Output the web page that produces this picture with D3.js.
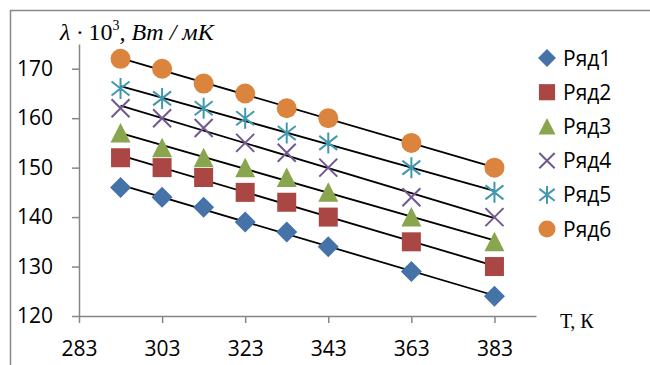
<!DOCTYPE html>
<html>
<head>
<meta charset="utf-8">
<script src="https://cdn.jsdelivr.net/npm/d3@7"></script>
<style>
body { margin:0; background:#fff; }
svg { font-family: "Open Sans", sans-serif; }
</style>
</head>
<body>
<div id="chart"></div>
<script>
// data
var temps = [293, 303, 313, 323, 333, 343, 363, 383];
var xTicks = [283, 303, 323, 343, 363, 383];
var yTicks = [120, 130, 140, 150, 160, 170];
var seriesNames = ["Ряд1", "Ряд2", "Ряд3", "Ряд4", "Ряд5", "Ряд6"];
var row1 = [146, 144, 142, 139, 137, 134, 129, 124];
var row2 = [152, 150, 148, 145, 143, 140, 135, 130];
var row3 = [157, 154, 152, 150, 148, 145, 140, 135];
var row4 = [162, 160, 158, 155, 153, 150, 144, 140];
var row5 = [166, 164, 162, 160, 157, 155, 150, 145];
var row6 = [172, 170, 167, 165, 162, 160, 155, 150];
var colors = ["#4572A7", "#AA4643", "#89A54E", "#71588F", "#4198AF", "#DB843D"];

var rows = [row1, row2, row3, row4, row5, row6];

var width = 650, height = 365;
var svg = d3.select("#chart").append("svg")
  .attr("width", width)
  .attr("height", height);

// outer frame
svg.append("rect")
  .attr("x", 10.5).attr("y", 10.5)
  .attr("width", width).attr("height", height)
  .attr("fill", "none").attr("stroke", "#888").attr("stroke-width", 1.5);

var x = d3.scaleLinear().domain([283, 393]).range([79, 536]);
var y = d3.scaleLinear().domain([120, 175]).range([316, 44]);

var axisColor = "#868686";

var gx = svg.append("g").attr("transform", "translate(0,316)")
  .call(d3.axisBottom(x).tickValues(xTicks).tickSize(7).tickSizeOuter(0).tickPadding(18));
var gy = svg.append("g").attr("transform", "translate(79,0)")
  .call(d3.axisLeft(y).tickValues(yTicks).tickSize(7).tickSizeOuter(0).tickPadding(8));

[gx, gy].forEach(function(g){
  g.select(".domain").attr("stroke", axisColor).attr("stroke-width", 1.5);
  g.selectAll(".tick line").attr("stroke", axisColor).attr("stroke-width", 1.5);
  g.selectAll(".tick text").attr("fill", "#000").style("font-size", "21px")
    .style("font-family", "'Open Sans', sans-serif");
});
gy.selectAll(".tick text").attr("x", -26);

// axis titles
svg.append("text")
  .attr("x", 60).attr("y", 40)
  .style("font-family", "'Liberation Serif', serif")
  .style("font-style", "italic")
  .style("font-size", "24px")
  .html("λ · <tspan font-style='normal'>10</tspan><tspan dy='-10' font-size='14' font-style='normal'>3</tspan><tspan dy='10'>, Вт / мК</tspan>");

svg.append("text")
  .attr("x", 560).attr("y", 328)
  .style("font-family", "'Liberation Serif', serif")
  .style("font-size", "20px")
  .text("Т, К");

// linear trend lines (least squares for each row)
function fit(vals) {
  var mx = d3.mean(temps), my = d3.mean(vals);
  var num = d3.sum(temps, function(t, i){ return (t - mx) * (vals[i] - my); });
  var den = d3.sum(temps, function(t){ return (t - mx) * (t - mx); });
  var b = num / den;
  return function(t){ return my + b * (t - mx); };
}

var line = d3.line().x(function(d){ return x(d[0]); }).y(function(d){ return y(d[1]); });
rows.forEach(function(vals){
  var f = fit(vals);
  var ends = d3.extent(temps);
  svg.append("path")
    .attr("d", line(ends.map(function(t){ return [t, f(t)]; })))
    .attr("stroke", "#000").attr("stroke-width", 1.8).attr("fill", "none");
});

// marker drawing
function drawMarker(g, k, cx, cy, s) {
  var c = colors[k];
  s = s || 1;
  var t = "translate(" + cx + "," + cy + ") scale(" + s + ")";
  if (k === 0) {
    g.append("path").attr("d", "M0,-10.5L10.5,0L0,10.5L-10.5,0Z").attr("transform", t).attr("fill", c);
  } else if (k === 1) {
    g.append("path").attr("d", "M-9.5,-9.5H9.5V9.5H-9.5Z").attr("transform", t).attr("fill", c);
  } else if (k === 2) {
    g.append("path").attr("d", "M0,-10L10,9.5H-10Z").attr("transform", t).attr("fill", c);
  } else if (k === 3) {
    g.append("path").attr("d", "M-9,-9L9,9M-9,9L9,-9").attr("transform", t)
      .attr("fill", "none").attr("stroke", c).attr("stroke-width", 2 / s);
  } else if (k === 4) {
    g.append("path").attr("d", "M0,-10.5V10.5M-9,-7L9,7M-9,7L9,-7").attr("transform", t)
      .attr("fill", "none").attr("stroke", c).attr("stroke-width", 2 / s);
  } else {
    g.append("circle").attr("r", 10).attr("transform", t).attr("fill", c);
  }
}

var pts = svg.append("g");
rows.forEach(function(vals, k){
  vals.forEach(function(v, i){
    drawMarker(pts, k, x(temps[i]), y(v));
  });
});

// legend
var leg = svg.append("g");
seriesNames.forEach(function(name, k){
  var ly = 58 + k * 34.2;
  drawMarker(leg, k, 547, ly, 0.85);
  leg.append("text").attr("x", 563).attr("y", ly + 7.5)
    .style("font-size", "21px").text(name);
});
</script>
</body>
</html>
